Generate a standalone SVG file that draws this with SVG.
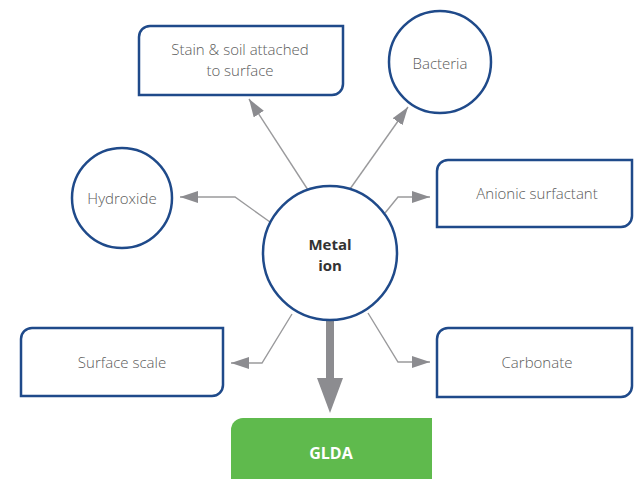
<svg xmlns="http://www.w3.org/2000/svg" width="634" height="479" viewBox="0 0 634 479">
<defs>
<style>
.node{fill:#fff;stroke:#1f4a8a;stroke-width:2.5}
.lbl{font-family:"Open Sans","Liberation Sans",sans-serif;font-size:15px;font-weight:300;fill:#5a5a5a;text-anchor:middle}
.bold{font-family:"Open Sans","Liberation Sans",sans-serif;font-weight:bold;text-anchor:middle}
.conn{fill:none;stroke:#9a9a9c;stroke-width:1.4}
.head{fill:#8c8c90}
</style>
<marker id="ah" viewBox="0 0 18 12" refX="18" refY="6" markerWidth="18" markerHeight="12" markerUnits="userSpaceOnUse" orient="auto">
<path class="head" d="M0,0 L18,6 L0,12 Z"/>
</marker>
</defs>
<rect width="634" height="479" fill="#fff"/>
<g id="connectors">
<polyline class="conn" points="270,222 235,197 180,197" marker-end="url(#ah)"/>
<polyline class="conn" points="308,190 249,99" marker-end="url(#ah)"/>
<polyline class="conn" points="350,189 408,107" marker-end="url(#ah)"/>
<polyline class="conn" points="385,213 398,197 430,197" marker-end="url(#ah)"/>
<polyline class="conn" points="292,314 262,363 231,363" marker-end="url(#ah)"/>
<polyline class="conn" points="368,313 398,362 430,362" marker-end="url(#ah)"/>
<path d="M326,320 H334 V378 H343 L330,413 L317,378 H326 Z" fill="#8c8c90"/>
</g>
<g id="stain">
<path class="node" d="M139,95 V37 A11,11 0 0 1 150,26 H343 V84 A11,11 0 0 1 332,95 Z"/>
<text class="lbl" x="240" y="55">Stain &amp; soil attached</text>
<text class="lbl" x="240" y="76">to surface</text>
</g>
<g id="bacteria">
<circle class="node" cx="440" cy="62" r="51"/>
<text class="lbl" x="440" y="69">Bacteria</text>
</g>
<g id="hydroxide">
<circle class="node" cx="122" cy="198" r="50"/>
<text class="lbl" x="122" y="204">Hydroxide</text>
</g>
<g id="anionic">
<path class="node" d="M437,227 V171 A11,11 0 0 1 448,160 H632 V216 A11,11 0 0 1 621,227 Z"/>
<text class="lbl" x="537" y="199">Anionic surfactant</text>
</g>
<g id="metal">
<circle class="node" cx="330" cy="253" r="67"/>
<text class="bold" x="330" y="250" font-size="15" fill="#333">Metal</text>
<text class="bold" x="330" y="271" font-size="15" fill="#333">ion</text>
</g>
<g id="surface">
<path class="node" d="M21,396 V339 A11,11 0 0 1 32,328 H223 V385 A11,11 0 0 1 212,396 Z"/>
<text class="lbl" x="122" y="368">Surface scale</text>
</g>
<g id="carbonate">
<path class="node" d="M437,397 V339 A11,11 0 0 1 448,328 H632 V386 A11,11 0 0 1 621,397 Z"/>
<text class="lbl" x="537" y="368">Carbonate</text>
</g>
<g id="glda">
<path d="M231,479 V430 A12,12 0 0 1 243,418 H432 V479 Z" fill="#5fba4d"/>
<text class="bold" x="331" y="459" font-size="16" fill="#fff">GLDA</text>
</g>
</svg>
